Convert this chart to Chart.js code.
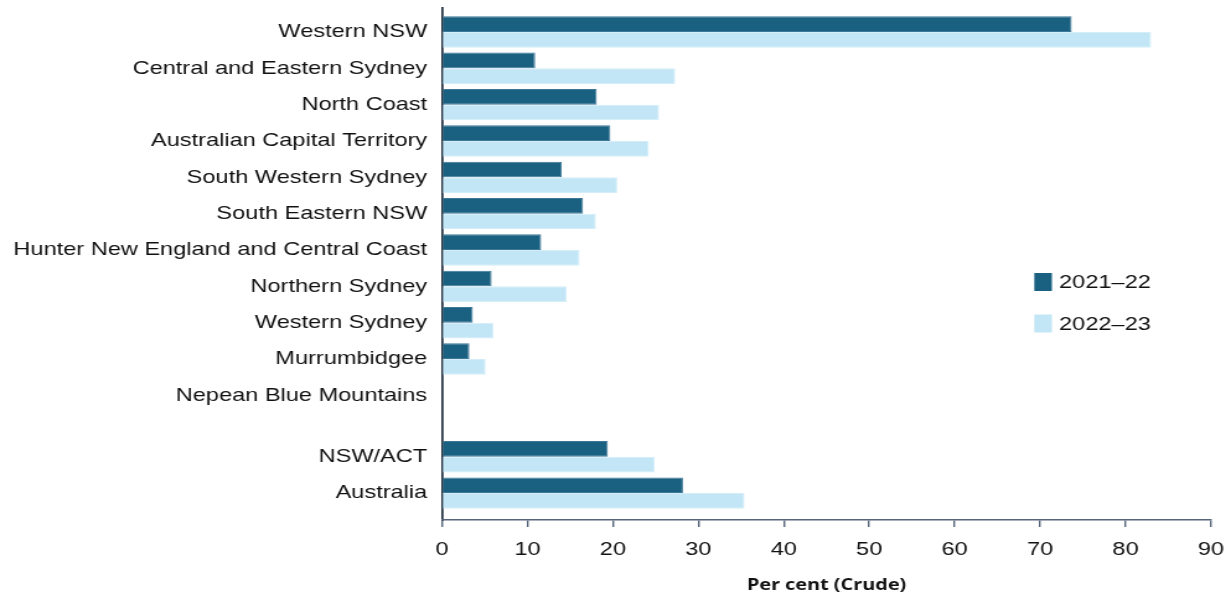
<!DOCTYPE html>
<html>
<head>
<meta charset="utf-8">
<script src="https://cdn.jsdelivr.net/npm/chart.js@4/dist/chart.umd.min.js"></script>
<style>
  html, body { margin: 0; padding: 0; background: #ffffff; overflow: hidden; }
  /* The chart is laid out on a narrower canvas and widened horizontally. */
  #wrap { width: 993px; height: 599px; position: relative; transform: scaleX(1.2397); transform-origin: 0 0; }
</style>
</head>
<body>
<div id="wrap"><canvas id="chart"></canvas></div>
<script>
// Regions (PHN areas), listed top to bottom
const regions = [
  'Western NSW',
  'Central and Eastern Sydney',
  'North Coast',
  'Australian Capital Territory',
  'South Western Sydney',
  'South Eastern NSW',
  'Hunter New England and Central Coast',
  'Northern Sydney',
  'Western Sydney',
  'Murrumbidgee',
  'Nepean Blue Mountains'
];
// Summary rows shown below a gap
const totals = ['NSW/ACT', 'Australia'];

const seriesLabels = ['2021–22', '2022–23'];

// Per cent (crude), same order as regions then totals
const values2122 = [73.7, 10.9, 18.1, 19.7, 14.0, 16.5, 11.6, 5.8, 3.6, 3.2, null, 19.4, 28.2];
const values2223 = [83.0, 27.3, 25.4, 24.2, 20.5, 18.0, 16.1, 14.6, 6.0, 5.1, null, 24.9, 35.4];

const xTicks = [0, 10, 20, 30, 40, 50, 60, 70, 80, 90];

// Row positions on the vertical value scale: regions one unit apart,
// then a wider gap before the summary rows.
const ROW_GAP = 1.69;
const categories = regions.concat(totals);
const rowPos = categories.map((c, i) => i < regions.length ? i : (regions.length - 1) + ROW_GAP + (i - regions.length));

const DARK = '#1a6080';
const LIGHT = '#c2e6f5';
const FONT = "'Liberation Sans', Arial, sans-serif";

const legendInside = {
  id: 'legendInside',
  afterDraw(chart) {
    const { ctx, chartArea } = chart;
    const x0 = chartArea.right - 142.5;
    const y0 = chartArea.top + 274;
    const step = 41.5;
    ctx.save();
    ctx.font = '19px ' + FONT;
    ctx.textBaseline = 'middle';
    ctx.textAlign = 'left';
    chart.data.datasets.forEach((ds, i) => {
      const y = y0 + i * step;
      ctx.fillStyle = ds.backgroundColor;
      ctx.fillRect(x0, y - 9, 14.2, 18);
      ctx.fillStyle = '#111111';
      ctx.fillText(ds.label, x0 + 20, y + 1);
    });
    ctx.restore();
  }
};

new Chart(document.getElementById('chart'), {
  type: 'bar',
  data: {
    datasets: [
      {
        label: seriesLabels[0],
        data: values2122.map((v, i) => ({ x: v, y: rowPos[i] })),
        backgroundColor: DARK,
        borderColor: '#3d7899',
        borderWidth: 1
      },
      {
        label: seriesLabels[1],
        data: values2223.map((v, i) => ({ x: v, y: rowPos[i] })),
        backgroundColor: LIGHT,
        borderColor: '#d3eef9',
        borderWidth: 1
      }
    ]
  },
  options: {
    indexAxis: 'y',
    responsive: true,
    maintainAspectRatio: false,
    animation: false,
    categoryPercentage: 0.864,
    barPercentage: 1.0,
    layout: { padding: { top: 8, right: 16.2, left: 0, bottom: 0 } },
    plugins: {
      legend: { display: false },
      tooltip: { enabled: false }
    },
    scales: {
      y: {
        type: 'linear',
        reverse: true,
        offset: false,
        min: -0.66,
        max: rowPos[rowPos.length - 1] + 0.74,
        afterBuildTicks(scale) {
          scale.ticks = rowPos.map(v => ({ value: v }));
        },
        afterFit(scale) {
          scale.width = 356.6;
          scale.paddingTop = 0;
          scale.paddingBottom = 0;
        },
        ticks: {
          autoSkip: false,
          padding: 12,
          color: '#111111',
          font: { family: FONT, size: 19 },
          callback(value) {
            const idx = rowPos.findIndex(p => Math.abs(p - value) < 1e-6);
            return idx >= 0 ? categories[idx] : '';
          }
        },
        grid: { display: false, drawTicks: false },
        border: { display: true, color: '#22303f', width: 1.7 }
      },
      x: {
        type: 'linear',
        min: xTicks[0],
        max: xTicks[xTicks.length - 1],
        afterBuildTicks(scale) {
          scale.ticks = xTicks.map(v => ({ value: v }));
        },
        afterFit(scale) {
          scale.height = 79;
          scale.paddingLeft = 0;
          scale.paddingRight = 0;
        },
        ticks: {
          padding: 11,
          color: '#111111',
          font: { family: FONT, size: 19 }
        },
        grid: {
          display: true,
          drawOnChartArea: false,
          drawTicks: true,
          tickLength: 7,
          color: '#56657a',
          lineWidth: 1.4
        },
        border: { display: true, color: '#56657a', width: 1.5 },
        title: {
          display: true,
          text: 'Per cent (Crude)',
          color: '#111111',
          font: { family: "'Open Sans', sans-serif", size: 16, weight: 'bold' },
          padding: { top: 4, bottom: 4 }
        }
      }
    }
  },
  plugins: [legendInside]
});
</script>
</body>
</html>
